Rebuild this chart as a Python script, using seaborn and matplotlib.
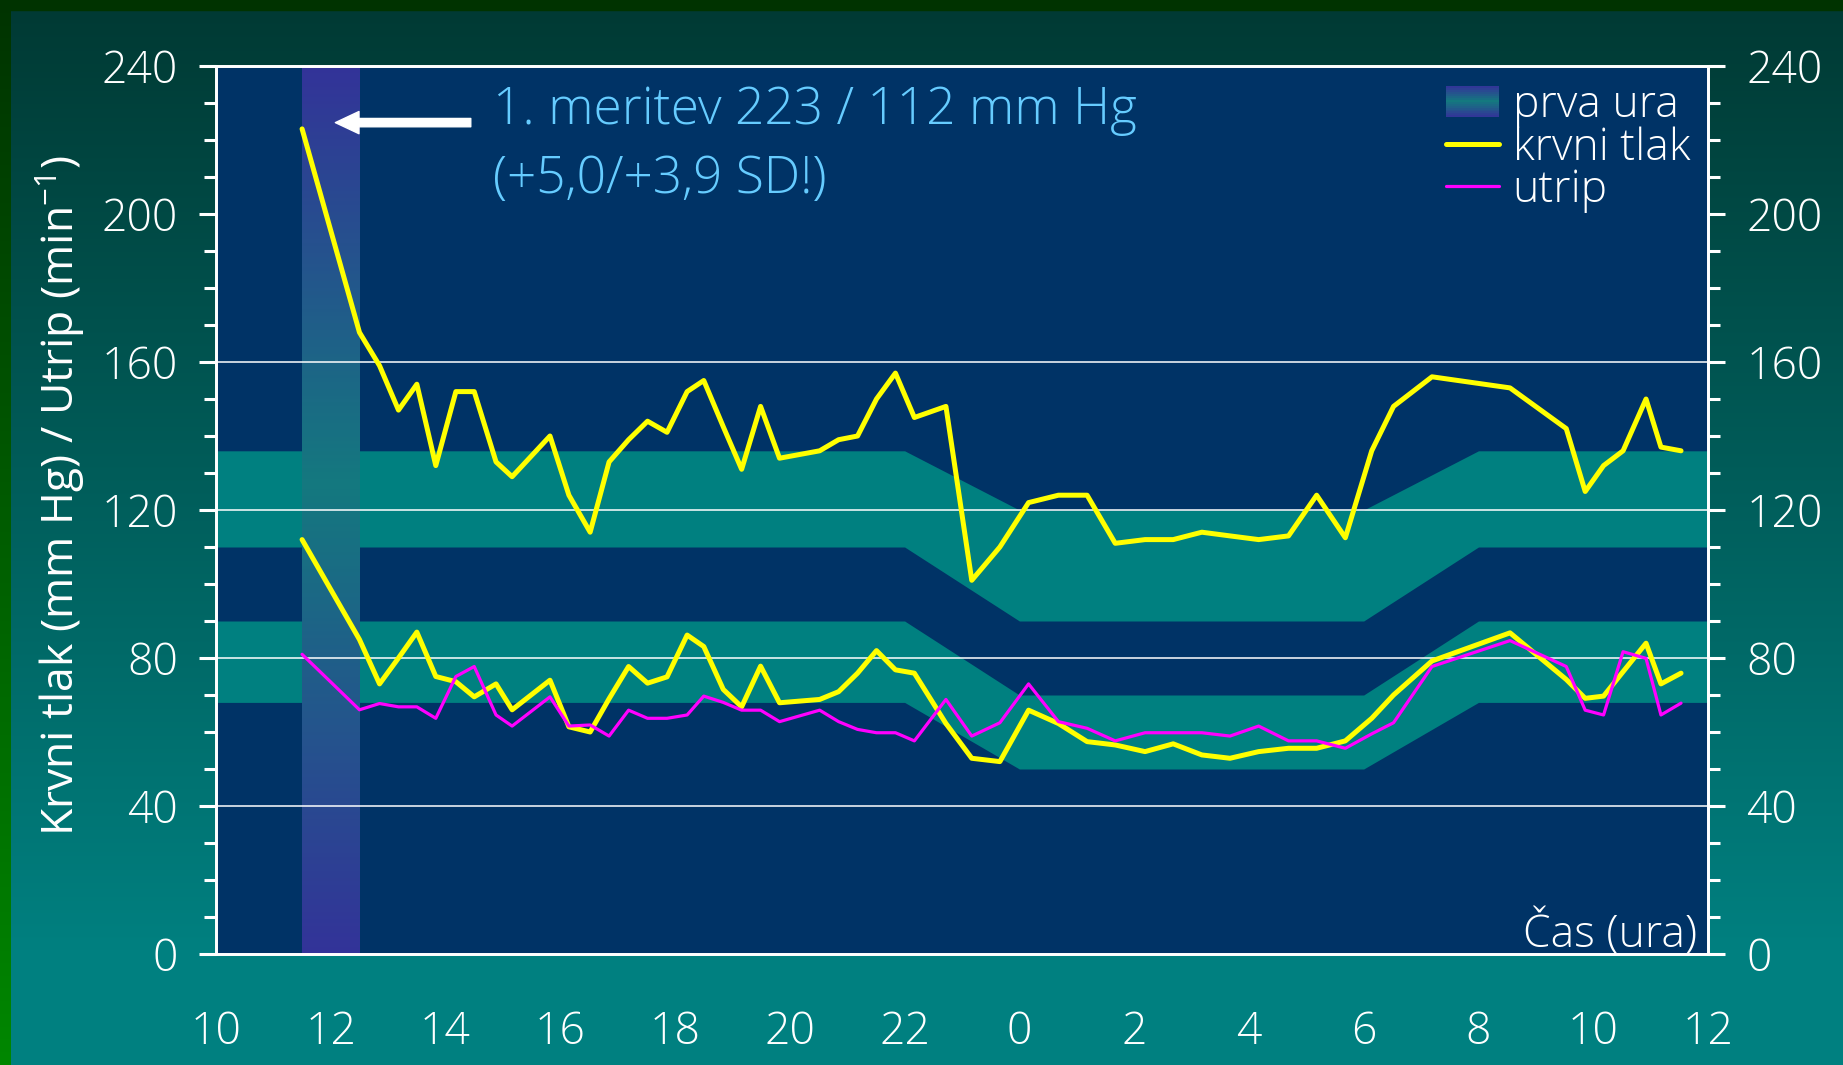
import numpy as np
import pandas as pd
import matplotlib
matplotlib.use("Agg")
import matplotlib.pyplot as plt
import seaborn as sns
from matplotlib.colors import LinearSegmentedColormap
from matplotlib.legend_handler import HandlerBase
from matplotlib.patches import Rectangle
from matplotlib.lines import Line2D
from matplotlib.ticker import MultipleLocator

# === DATA ===
# time of measurement in hours from midnight of day 1 (24+ = next day)
ura = [11.5, 12.5, 12.85, 13.18, 13.5, 13.83, 14.18, 14.5, 14.88, 15.16,
       15.82, 16.15, 16.52, 16.85, 17.19, 17.52, 17.86, 18.21, 18.5, 18.84,
       19.16, 19.49, 19.82, 20.52, 20.85, 21.18, 21.51, 21.84, 22.17, 22.72,
       23.17, 23.66, 24.16, 24.68, 25.18, 25.67, 26.19, 26.68, 27.18, 27.67,
       28.17, 28.69, 29.18, 29.68, 30.14, 30.52, 31.19, 32.55, 33.53, 33.86,
       34.18, 34.52, 34.92, 35.18, 35.53]
sistolicni = [223, 168, 159, 147, 154, 132, 152, 152, 133, 129,
              140, 124, 114, 133, 139, 144, 141, 152, 155, 142.5,
              131, 148, 134, 136, 139, 140, 150, 157, 145, 148,
              101, 110, 122, 124, 124, 111, 112, 112, 114, 113,
              112, 113, 124, 112.5, 136, 148, 156, 153, 142, 125,
              132, 136, 150, 137, 136]
diastolicni = [112, 85, 73, 80, 87, 75, 73.6, 69.5, 73, 66,
               74, 61.4, 60, 69, 77.7, 73.2, 74.9, 86.2, 83.1, 71.5,
               66.8, 77.8, 67.9, 68.8, 70.9, 75.9, 82, 76.8, 75.9, 62.3,
               52.9, 52, 65.9, 62.3, 57.4, 56.5, 54.7, 56.8, 53.8, 52.9,
               54.7, 55.6, 55.6, 57.6, 63.7, 70, 79.2, 86.8, 74.2, 69.1,
               69.7, 76.3, 84, 73, 75.9]
utrip = [81, 66, 67.7, 66.8, 66.8, 63.7, 75, 77.7, 64.6, 61.6,
         69.5, 61.6, 61.9, 58.9, 65.9, 63.7, 63.7, 64.6, 69.7, 68,
         65.9, 65.9, 62.8, 65.9, 62.8, 60.7, 59.8, 59.8, 57.6, 68.8,
         58.9, 62.5, 73, 62.8, 61, 57.6, 59.8, 59.8, 59.8, 58.9,
         61.6, 57.6, 57.6, 55.6, 59.5, 62.5, 77.7, 84.7, 77.7, 65.9,
         64.6, 81.7, 79.9, 64.6, 67.8]

# normal ranges (day / night) - breakpoints in hours
meje_x = [10, 22, 24, 30, 32, 36]
sis_spodaj = [110, 110, 90, 90, 110, 110]
sis_zgoraj = [136, 136, 120, 120, 136, 136]
dia_spodaj = [68, 68, 50, 50, 68, 68]
dia_zgoraj = [90, 90, 70, 70, 90, 90]

prva_ura = (11.5, 12.5)
x_ticks = list(range(10, 37, 2))
x_labels = [str(h % 24) for h in x_ticks]

# === STYLE ===
sns.set_style("white")
plt.rcParams["font.family"] = ["Open Sans", "DejaVu Sans"]
plt.rcParams["font.weight"] = "light"
plt.rcParams["mathtext.default"] = "regular"

W, H = 1843, 1065
FS = 32
YELLOW, MAGENTA, TEAL, NAVY = "#FFFF00", "#FF00FF", "#008080", "#003366"

fig = plt.figure(figsize=(W / 100, H / 100), dpi=100)

# slide background
bg = fig.add_axes([0, 0, 1, 1])
bg.set_axis_off()
rows = np.arange(H)
frac = np.clip((rows - 10) / 940, 0, 1)
c_top = np.array([0, 58, 52]) / 255
c_bot = np.array([0, 128, 128]) / 255
grad = c_top + frac[:, None] * (c_bot - c_top)
bg.imshow(grad[:, None, :], extent=[0, W, H, 0], aspect="auto")
lf = np.linspace(0, 1, H)
g_top = np.array([0, 51, 0]) / 255
g_bot = np.array([0, 135, 0]) / 255
bg.imshow((g_top + lf[:, None] * (g_bot - g_top))[:, None, :], extent=[0, 11, H, 0], aspect="auto")
bg.add_patch(Rectangle((0, 0), W, 10, color="#003300"))
bg.set_xlim(0, W)
bg.set_ylim(H, 0)

# main plot
ax = fig.add_axes([216 / W, 1 - 954 / H, (1708 - 216) / W, (954 - 66) / H])
ax.set_facecolor(NAVY)

ax.fill_between(meje_x, sis_spodaj, sis_zgoraj, color=TEAL, lw=0, zorder=1)
ax.fill_between(meje_x, dia_spodaj, dia_zgoraj, color=TEAL, lw=0, zorder=1)

bar_cmap = LinearSegmentedColormap.from_list(
    "prva", [(0, "#333399"), (0.53, "#14797f"), (1, "#333399")])
ax.imshow(np.linspace(0, 1, 256)[:, None], cmap=bar_cmap, origin="lower",
          extent=[prva_ura[0], prva_ura[1], 0, 240], aspect="auto", zorder=2)

for v in [40, 80, 120, 160]:
    ax.axhline(v, color="white", lw=1.1, zorder=2.5)

df = pd.DataFrame({"ura": ura, "sis": sistolicni, "dia": diastolicni, "utrip": utrip})
sns.lineplot(data=df, x="ura", y="sis", color=YELLOW, lw=3.6, sort=False,
             estimator=None, ax=ax, zorder=4)
sns.lineplot(data=df, x="ura", y="dia", color=YELLOW, lw=3.6, sort=False,
             estimator=None, ax=ax, zorder=4)
sns.lineplot(data=df, x="ura", y="utrip", color=MAGENTA, lw=2.3, sort=False,
             estimator=None, ax=ax, zorder=5)

ax.set_xlim(10, 36)
ax.set_ylim(0, 240)
ax.set_xticks(x_ticks)
ax.set_xticklabels(x_labels)
ax.xaxis.set_minor_locator(MultipleLocator(1))
ax.yaxis.set_major_locator(MultipleLocator(40))
ax.yaxis.set_minor_locator(MultipleLocator(10))
ax.tick_params(axis="x", which="both", direction="out", length=11, width=2.2,
               colors="white", labelsize=FS, pad=30)
ax.tick_params(axis="y", which="major", direction="out", length=12.5, width=2.2,
               colors="white", labelsize=FS, pad=15)
ax.tick_params(axis="y", which="minor", direction="out", length=8.7, width=2.2,
               colors="white")
for s in ax.spines.values():
    s.set_color("white")
    s.set_linewidth(2)
    s.set_visible(True)

ax.set_xlabel("")
ax.set_ylabel("Krvni tlak (mm Hg) / Utrip (min$^{-1}$)", fontsize=FS,
              color="white", va="center")
ax.yaxis.set_label_coords(-0.104, 0.516)

ax2 = ax.twinx()
ax2.set_ylim(0, 240)
ax2.yaxis.set_major_locator(MultipleLocator(40))
ax2.yaxis.set_minor_locator(MultipleLocator(10))
ax2.tick_params(axis="y", which="major", direction="out", length=12.5, width=2.2,
                colors="white", labelsize=FS, pad=15)
ax2.tick_params(axis="y", which="minor", direction="out", length=8.7, width=2.2,
                colors="white")
for s in ax2.spines.values():
    s.set_color("white")
    s.set_linewidth(2)

ax.text(0.9926, 0.0068, "Čas (ura)", transform=ax.transAxes, ha="right",
        va="baseline", fontsize=FS, color="white", zorder=6)

# first measurement note
ax.annotate("", xy=(12.08, 224.7), xytext=(14.44, 224.7),
            arrowprops=dict(arrowstyle="simple,head_length=0.85,head_width=0.8,tail_width=0.3",
                            color="white", mutation_scale=20, shrinkA=0, shrinkB=0),
            zorder=6)
ax.text(14.83, 224.3, "1. meritev 223 / 112 mm Hg", fontsize=37,
        color="#66CCFF", ha="left", va="baseline", zorder=6)
ax.text(14.83, 205.7, "(+5,0/+3,9 SD!)", fontsize=37,
        color="#66CCFF", ha="left", va="baseline", zorder=6)


class GradientHandler(HandlerBase):
    def create_artists(self, legend, orig_handle, xdescent, ydescent,
                       width, height, fontsize, trans):
        n = 16
        parts = []
        for i in range(n):
            parts.append(Rectangle((-xdescent, -ydescent + height * i / n),
                                   width, height / n,
                                   facecolor=bar_cmap((i + 0.5) / n),
                                   edgecolor="none", transform=trans))
        return parts


h_bar = Rectangle((0, 0), 1, 1)
h_sys = Line2D([], [], color=YELLOW, lw=3.6)
h_pul = Line2D([], [], color=MAGENTA, lw=2.3)
leg = ax2.legend([h_bar, h_sys, h_pul], ["prva ura", "krvni tlak", "utrip"],
                 handler_map={h_bar: GradientHandler()},
                 loc="upper right", bbox_to_anchor=(1.0, 1.0), frameon=False,
                 fontsize=FS, labelcolor="white", handlelength=1.2,
                 handletextpad=0.3, labelspacing=-0.05, borderaxespad=0.2,
                 borderpad=0.2)

fig.savefig("out.png", dpi=100)
